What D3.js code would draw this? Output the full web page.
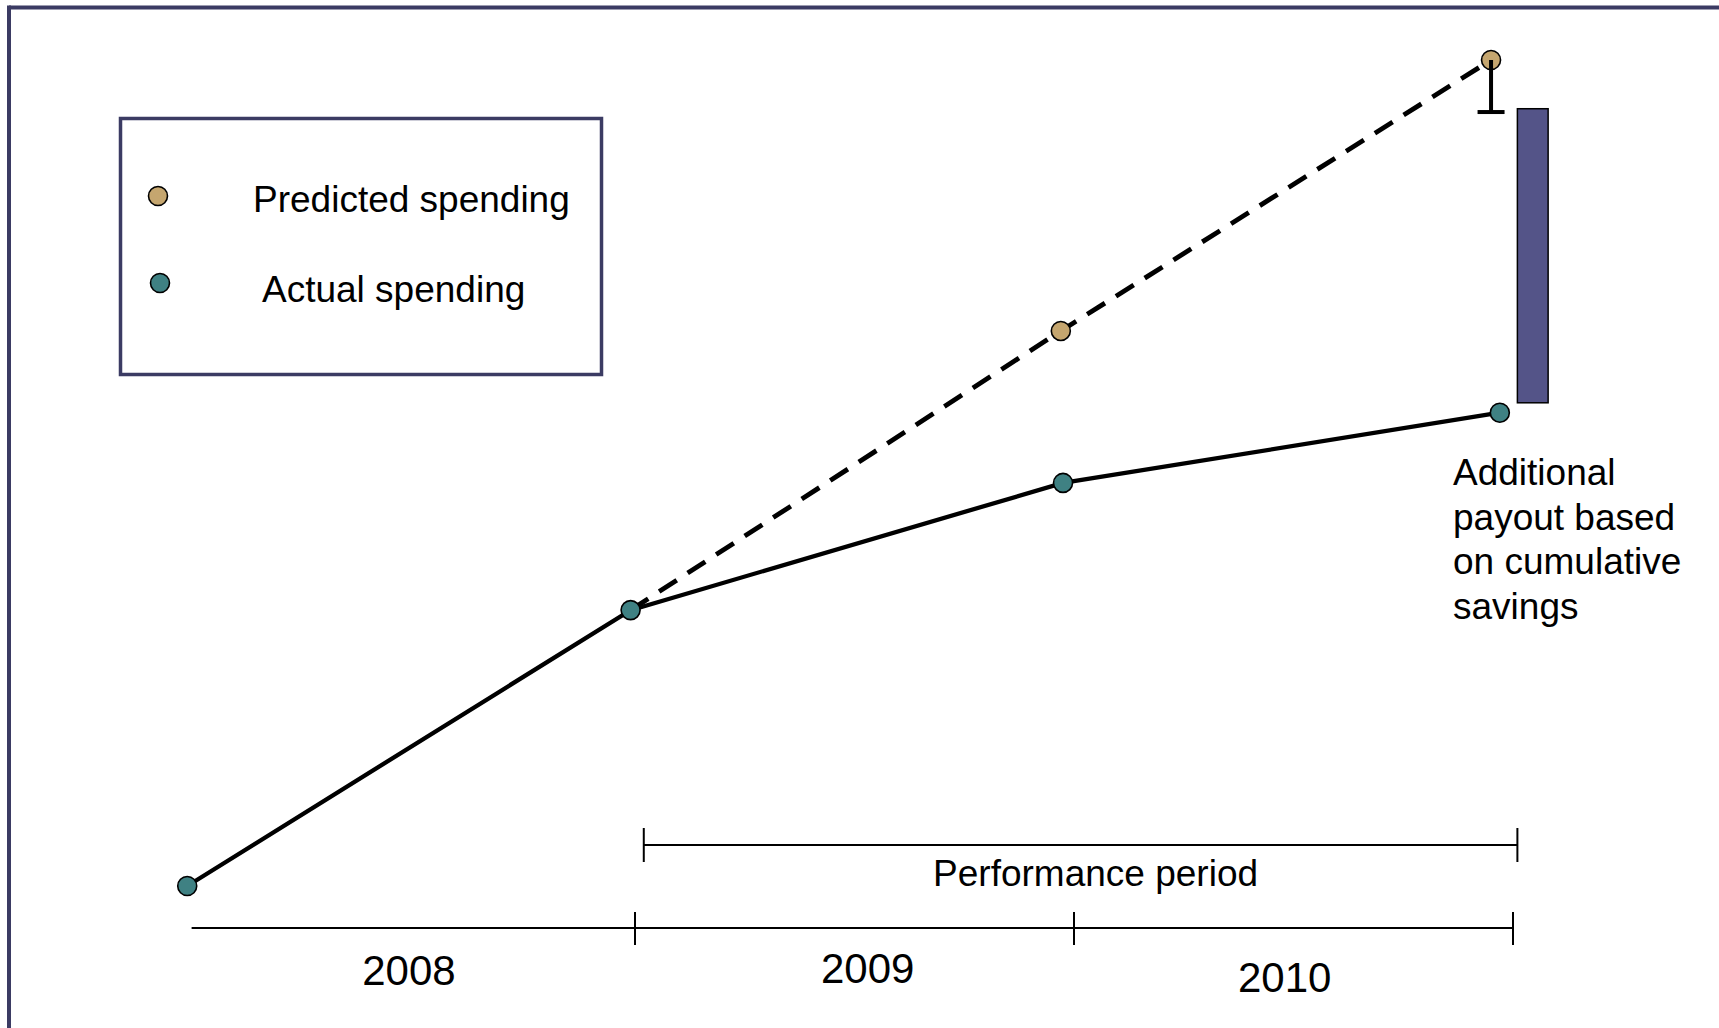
<!DOCTYPE html>
<html>
<head>
<meta charset="utf-8">
<script src="https://cdn.jsdelivr.net/npm/d3@7"></script>
<style>
  html, body { margin: 0; padding: 0; background: #ffffff; }
  svg { display: block; }
  text { font-family: "Liberation Sans", Arial, sans-serif; fill: #000; }
</style>
</head>
<body>
<svg id="chart" width="1719" height="1028"></svg>
<script>
// ---- data ----
const actualX = [2007.98, 2008.99, 2009.975, 2010.97];
const actualY = [0, 33.4, 48.8, 57.3];
const predictedX = [2009.97, 2010.95];
const predictedY = [67.2, 100];
const predictedStart = { x: 2008.99, y: 33.4 };
const errorBarLow = 93.7;
const savingsBarX = [2011.01, 2011.08];
const savingsBarY = [58.5, 94.1];
const yearTicks = [2008, 2009, 2010, 2011];
const yearLabels = ["2008", "2009", "2010"];
const yearLabelPos = [2008.485, 2009.53, 2010.48];
const performancePeriod = [2009.02, 2011.01];
const legendLabels = ["Predicted spending", "Actual spending"];
const annotationLines = ["Additional", "payout based", "on cumulative", "savings"];

// ---- scales ----
const x = d3.scaleLinear().domain([2008, 2011]).range([196, 1513]);
const y = d3.scaleLinear().domain([0, 100]).range([886, 60]);

const svg = d3.select("#chart");
const frameColor = "#3b3b63";
const predColor = "#c5a66f";
const actColor = "#3f8183";

// frame (top & left edges visible)
svg.append("line").attr("x1", 9).attr("y1", 7.5).attr("x2", 1719).attr("y2", 7.5)
  .attr("stroke", frameColor).attr("stroke-width", 4);
svg.append("line").attr("x1", 9).attr("y1", 5.5).attr("x2", 9).attr("y2", 1028)
  .attr("stroke", frameColor).attr("stroke-width", 4);

// legend
const legend = svg.append("g");
legend.append("rect").attr("x", 120.5).attr("y", 118.5).attr("width", 481).attr("height", 256)
  .attr("fill", "#fff").attr("stroke", frameColor).attr("stroke-width", 3.5);
const legendColors = [predColor, actColor];
const legendCircle = [[158, 196], [160, 283]];
const legendText = [[253, 212], [262, 302]];
legendLabels.forEach((lab, i) => {
  legend.append("circle").attr("cx", legendCircle[i][0]).attr("cy", legendCircle[i][1]).attr("r", 9.5)
    .attr("fill", legendColors[i]).attr("stroke", "#000").attr("stroke-width", 1.6);
  legend.append("text").attr("x", legendText[i][0]).attr("y", legendText[i][1])
    .attr("font-size", 37).text(lab);
});

// bottom year axis
const axisY = 928;
svg.append("line").attr("x1", x(2007.99)).attr("x2", x(2011)).attr("y1", axisY).attr("y2", axisY)
  .attr("stroke", "#000").attr("stroke-width", 2);
yearTicks.slice(1).forEach(t => {
  svg.append("line").attr("x1", x(t)).attr("x2", x(t)).attr("y1", 912).attr("y2", 945)
    .attr("stroke", "#000").attr("stroke-width", 2);
});
const labelBaselines = [985, 983, 992];
yearLabels.forEach((lab, i) => {
  svg.append("text").attr("x", x(yearLabelPos[i])).attr("y", labelBaselines[i])
    .attr("text-anchor", "middle").attr("font-size", 42).text(lab);
});

// performance period bracket
const ppY = 845;
svg.append("line").attr("x1", x(performancePeriod[0])).attr("x2", x(performancePeriod[1]))
  .attr("y1", ppY).attr("y2", ppY).attr("stroke", "#000").attr("stroke-width", 2);
performancePeriod.forEach(p => {
  svg.append("line").attr("x1", x(p)).attr("x2", x(p)).attr("y1", 828).attr("y2", 862)
    .attr("stroke", "#000").attr("stroke-width", 2);
});
svg.append("text").attr("x", (x(performancePeriod[0]) + x(performancePeriod[1])) / 2 + 15)
  .attr("y", 886).attr("text-anchor", "middle").attr("font-size", 37).text("Performance period");

// lines
const line = d3.line().x(d => x(d[0])).y(d => y(d[1]));
const predPts = [[predictedStart.x, predictedStart.y]].concat(predictedX.map((v, i) => [v, predictedY[i]]));
svg.append("path").attr("d", line(predPts)).attr("fill", "none").attr("stroke", "#000")
  .attr("stroke-width", 4.8).attr("stroke-dasharray", "21,13");
const actPts = actualX.map((v, i) => [v, actualY[i]]);
svg.append("path").attr("d", line(actPts)).attr("fill", "none").attr("stroke", "#000")
  .attr("stroke-width", 4.3);

// error bar from last predicted point
const lastPx = x(predictedX[predictedX.length - 1]);
svg.append("line").attr("x1", lastPx - 13.5).attr("x2", lastPx + 13.5)
  .attr("y1", y(errorBarLow)).attr("y2", y(errorBarLow))
  .attr("stroke", "#000").attr("stroke-width", 4);

// savings bar
svg.append("rect").attr("x", x(savingsBarX[0])).attr("width", x(savingsBarX[1]) - x(savingsBarX[0]))
  .attr("y", y(savingsBarY[1])).attr("height", y(savingsBarY[0]) - y(savingsBarY[1]))
  .attr("fill", "#545488").attr("stroke", "#000").attr("stroke-width", 1.5);

// points
svg.selectAll(".pred").data(predictedX.map((v, i) => [v, predictedY[i]])).enter()
  .append("circle").attr("cx", d => x(d[0])).attr("cy", d => y(d[1])).attr("r", 9.5)
  .attr("fill", predColor).attr("stroke", "#000").attr("stroke-width", 1.6);
// error bar stem drawn over the predicted point (as in reference)
svg.append("line").attr("x1", lastPx).attr("x2", lastPx)
  .attr("y1", y(predictedY[predictedY.length - 1])).attr("y2", y(errorBarLow))
  .attr("stroke", "#000").attr("stroke-width", 4);
svg.selectAll(".act").data(actPts).enter()
  .append("circle").attr("cx", d => x(d[0])).attr("cy", d => y(d[1])).attr("r", 9.5)
  .attr("fill", actColor).attr("stroke", "#000").attr("stroke-width", 1.6);

// annotation
const ann = svg.append("text").attr("font-size", 37);
annotationLines.forEach((l, i) => {
  ann.append("tspan").attr("x", 1453).attr("y", 485 + i * 44.6).text(l);
});
</script>
</body>
</html>
